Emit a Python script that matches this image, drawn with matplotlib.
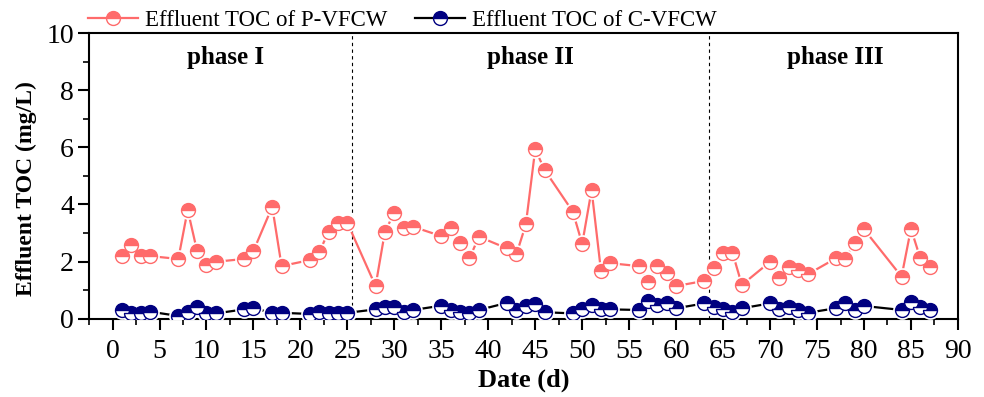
import numpy as np
import matplotlib.pyplot as plt
from matplotlib.ticker import MultipleLocator

# sampling days
days_p = [1, 2, 3, 4, 7, 8, 9, 10, 11, 14, 15, 17, 18, 21, 22, 23, 24, 25,
          28, 29, 30, 31, 32, 35, 36, 37, 38, 39, 42, 43, 44, 45, 46, 49, 50,
          51, 52, 53, 56, 57, 58, 59, 60, 63, 64, 65, 66, 67, 70, 71, 72, 73,
          74, 77, 78, 79, 80, 84, 85, 86, 87]
days_c = days_p

# effluent TOC (mg/L)
toc_p = [2.19, 2.58, 2.19, 2.19, 2.09, 3.81, 2.37, 1.88, 1.99, 2.09, 2.37,
         3.92, 1.84, 2.05, 2.32, 3.05, 3.36, 3.36, 1.14, 3.05, 3.71, 3.19,
         3.22, 2.89, 3.19, 2.66, 2.11, 2.87, 2.46, 2.26, 3.30, 5.94, 5.21,
         3.75, 2.62, 4.51, 1.67, 1.94, 1.84, 1.29, 1.84, 1.59, 1.14, 1.32,
         1.78, 2.31, 2.31, 1.18, 1.99, 1.41, 1.82, 1.70, 1.55, 2.11, 2.08,
         2.66, 3.13, 1.47, 3.15, 2.11, 1.82]
toc_c = [0.30, 0.18, 0.18, 0.24, 0.09, 0.24, 0.41, 0.20, 0.18, 0.32, 0.36,
         0.20, 0.20, 0.16, 0.24, 0.18, 0.18, 0.20, 0.32, 0.41, 0.41, 0.24,
         0.30, 0.45, 0.30, 0.24, 0.20, 0.30, 0.55, 0.30, 0.45, 0.52, 0.22,
         0.18, 0.32, 0.47, 0.32, 0.32, 0.30, 0.62, 0.47, 0.53, 0.36, 0.53,
         0.41, 0.32, 0.24, 0.36, 0.53, 0.32, 0.39, 0.30, 0.20, 0.36, 0.55,
         0.30, 0.44, 0.30, 0.59, 0.41, 0.30]

phase_names = ['phase I', 'phase II', 'phase III']
phase_x = [12, 44.5, 77]
phase_bounds = [25.5, 63.5]

plt.rcParams['font.family'] = ['Liberation Serif', 'DejaVu Serif']

fig = plt.figure(figsize=(9.84, 3.97), dpi=100)
ax = fig.add_axes([0.0905, 0.1977, 0.883, 0.718])

red = '#FF6B6B'
navy = '#000080'
ms = 10


def draw_series(x, y, color, line_color, label):
    ax.plot(x, y, '-', color=line_color, lw=1.6, zorder=2)
    # white halo gives the gap between line and marker
    ax.plot(x, y, 'o', ms=ms + 3.5, color='white', mec='none', zorder=3)
    ax.plot(x, y, 'o', ms=ms, mfc=color, mfcalt='white', fillstyle='top',
            mec=color, mew=1.0, zorder=4)
    # legend proxy
    ax.plot([], [], '-', color=line_color, lw=1.6, marker='o', ms=ms,
            mfc=color, mfcalt='white', fillstyle='top', mec=color, mew=1.0,
            label=label)


draw_series(days_p, toc_p, red, red, 'Effluent TOC of P-VFCW')
draw_series(days_c, toc_c, navy, 'black', 'Effluent TOC of C-VFCW')

for b in phase_bounds:
    ax.axvline(b, color='black', lw=0.8, ls=(0, (3, 3)), zorder=1)

for name, px in zip(phase_names, phase_x):
    ax.text(px, 9.15, name, ha='center', va='center', fontsize=18,
            fontweight='bold')

ax.set_xlim(-2.5, 90)
ax.set_ylim(0, 10)
ax.xaxis.set_major_locator(MultipleLocator(5))
ax.xaxis.set_minor_locator(MultipleLocator(2.5))
ax.yaxis.set_major_locator(MultipleLocator(2))
ax.yaxis.set_minor_locator(MultipleLocator(1))
ax.tick_params(which='major', direction='out', length=8, width=1.5,
               labelsize=20, pad=3)
ax.tick_params(axis='x', which='major', pad=7)
ax.tick_params(which='minor', direction='out', length=4, width=1.2)
for s in ax.spines.values():
    s.set_linewidth(1.5)

ax.set_xlabel('Date (d)', fontsize=19, fontweight='bold')
ax.set_ylabel('Effluent TOC (mg/L)', fontsize=17, fontweight='bold')
ax.xaxis.set_label_coords(0.5, -0.175)
ax.yaxis.set_label_coords(-0.060, 0.455)

ax.legend(loc='lower left', bbox_to_anchor=(-0.0117, 0.975), ncol=2,
          frameon=False, fontsize=16.5, handlelength=2.18, handletextpad=0.3,
          columnspacing=1.2, borderaxespad=0)

fig.savefig('out.png', dpi=100)
